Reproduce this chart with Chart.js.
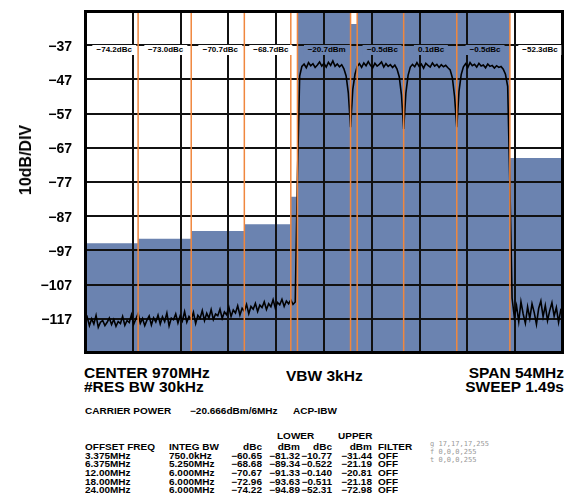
<!DOCTYPE html>
<html>
<head>
<meta charset="utf-8">
<script src="https://cdn.jsdelivr.net/npm/chart.js@4.4.1/dist/chart.umd.min.js"></script>
<style>
  html, body { margin: 0; padding: 0; background: #fff; }
  #wrap { position: relative; width: 574px; height: 497px; overflow: hidden;
          font-family: "Liberation Sans", Arial, sans-serif; font-weight: bold; color: #000; }
  #chart { position: absolute; left: 0; top: 0; }
  #readouts { position: absolute; left: 0; top: 0; width: 574px; height: 360px; pointer-events: none; }
  .ro { position: absolute; height: 10.5px; line-height: 10.5px; padding: 0 4px; font-size: 8px;
        white-space: nowrap; transform: translateX(-50%); }
  .t { position: absolute; white-space: nowrap; line-height: 1; }
  .big { font-size: 15.5px; transform: scaleY(0.9); transform-origin: 0 50%; }
  .sm { font-size: 10px; transform: scaleY(0.88); transform-origin: 0 50%; }
  #diag { position: absolute; left: 430px; top: 440px; width: 140px; font: 7px monospace; color: #999; white-space: pre; }
</style>
</head>
<body>
<div id="wrap">
  <canvas id="chart" width="574" height="360"></canvas>
  <div id="readouts"></div>

  <div class="t" style="left:26px;top:160px;font-size:16px;transform:translate(-50%,-50%) rotate(-90deg);">10dB/DIV</div>

  <div class="t big" style="left:84px;top:365.5px;">CENTER 970MHz</div>
  <div class="t big" style="left:84px;top:380px;">#RES BW 30kHz</div>
  <div class="t big" style="left:286px;top:368.5px;">VBW 3kHz</div>
  <div class="t big" style="left:364px;width:200px;text-align:right;transform-origin:100% 50%;top:365.5px;">SPAN 54MHz</div>
  <div class="t big" style="left:364px;width:200px;text-align:right;transform-origin:100% 50%;top:380px;">SWEEP 1.49s</div>

  <div class="t sm" style="left:85px;top:405.5px;">CARRIER POWER</div>
  <div class="t sm" style="left:190px;top:405.5px;">−20.666dBm/6MHz</div>
  <div class="t sm" style="left:293px;top:405.5px;">ACP-IBW</div>

  <div id="acp"></div>
  <div id="diag"></div>
</div>

<script>
// ── Sweep settings / axes ────────────────────────────────────────────────
var gridFreqs = [943, 948.4, 953.8, 959.2, 964.6, 970, 975.4, 980.8, 986.2, 991.6, 997];
var refTop = -27, refBottom = -127, dbPerDiv = 10;

// Integration bands (MHz edges) and the power drawn for each band (dBm)
var bandEdges = [943, 949, 955, 961, 966.25, 967, 973, 973.75, 979, 985, 991, 997];
var bandPower = [-94.89, -93.63, -91.33, -89.34, -81.32, -20.67, -30.8, -21.19, -20.81, -21.18, -70.0];

// Orange band-edge markers (MHz)
var markerFreqs = [949, 955, 961, 966.25, 967, 973, 973.75, 979, 985, 991];

// Readouts along the -37 line
var labelRowDb = -37;
var labelFreqs = [946.3, 952.1, 958.3, 964.0, 970.3, 976.6, 982.1, 988.2, 994.4];
var labelTexts = ['−74.2dBc', '−73.0dBc', '−70.7dBc', '−68.7dBc', '−20.7dBm',
                  '−0.5dBc', '0.1dBc', '−0.5dBc', '−52.3dBc'];

// Measured trace, one sample every 0.25 MHz starting at 943 MHz (one row per MHz)
var traceStart = 943, traceStep = 0.25;
var traceDbm = [
  -118, -116.5, -119, -117,          // 943
  -118.5, -116, -119.5, -118,        // 944
  -117.5, -119, -118, -116.8,        // 945
  -118.7, -117.2, -119.2, -117.8,    // 946
  -118.4, -116.3, -118.9, -117.5,    // 947
  -118.1, -115.8, -118.6, -117,      // 948
  -115.5, -118.3, -116.9, -119,      // 949
  -117.4, -116.2, -118.8, -116.7,    // 950
  -117.9, -115.9, -118.5, -116.4,    // 951
  -117.8, -115.3, -119.1, -116.8,    // 952
  -117.3, -115.6, -118.2, -116.1,    // 953
  -117.6, -114.9, -118, -116.3,      // 954
  -117.2, -115.1, -118.4, -116,      // 955
  -116.9, -114.6, -117.5, -115.4,    // 956
  -116.8, -114.3, -117.2, -115.6,    // 957
  -116.1, -114.2, -116.9, -115,      // 958
  -115.8, -113.6, -116.3, -114.4,    // 959
  -115.3, -113.2, -115.9, -113.9,    // 960
  -114.8, -112.8, -115.5, -113.4,    // 961
  -114.2, -112.5, -114.9, -113,      // 962
  -113.7, -112, -114.3, -112.6,      // 963
  -113.5, -111.4, -113.9, -112.2,    // 964
  -112.9, -111.3, -113.4, -111.8,    // 965
  -112.6, -111.5, -112.8, -112.1,    // 966
  -75, -46, -43.2, -42.5,            // 967
  -43.6, -42.1, -43, -42.4,          // 968
  -43.5, -42.8, -41.9, -43.1,        // 969
  -42.3, -43.4, -42, -42.9,          // 970
  -41.6, -43.2, -42.5, -43.3,        // 971
  -42.7, -43.9, -46, -51,            // 972
  -61, -50, -45.5, -43.2,            // 973
  -42.4, -43.5, -42.2, -43,          // 974
  -41.8, -42.9, -43.6, -42.3,        // 975
  -43.1, -42.6, -41.9, -43.4,        // 976
  -42.4, -43.2, -42.7, -43.5,        // 977
  -42.8, -44, -46.2, -51.5,          // 978
  -61.5, -51, -45.8, -43.4,          // 979
  -42.6, -43.3, -42.1, -43.2,        // 980
  -42.5, -43.7, -42.3, -42.9,        // 981
  -43.4, -42.2, -43.1, -42.6,        // 982
  -43.5, -42.7, -43.3, -42.9,        // 983
  -43.6, -44.2, -46.5, -52,          // 984
  -61, -50.5, -45.6, -43.3,          // 985
  -42.4, -43.5, -42.1, -43,          // 986
  -42.6, -43.4, -42.3, -43.1,        // 987
  -42.8, -43.6, -42.5, -43.2,        // 988
  -42.9, -43.7, -43, -43.5,          // 989
  -43.2, -44, -45.5, -49,            // 990
  -78, -111, -116.5, -113.2,         // 991
  -117.8, -112, -115.6, -118.3,      // 992
  -113.5, -116.9, -112.6, -115.2,    // 993
  -118.6, -114, -111.8, -116.4,      // 994
  -113.1, -117.5, -114.6, -112.3,    // 995
  -116.2, -113.7, -118, -114.4,      // 996
  -115.1                             // 997
];

// ACP table
var acpOffset = ['3.375MHz', '6.375MHz', '12.00MHz', '18.00MHz', '24.00MHz'];
var acpInteg  = ['750.0kHz', '5.250MHz', '6.000MHz', '6.000MHz', '6.000MHz'];
var lowerDbc  = ['−60.65', '−68.68', '−70.67', '−72.96', '−74.22'];
var lowerDbm  = ['−81.32', '−89.34', '−91.33', '−93.63', '−94.89'];
var upperDbc  = ['−10.77', '−0.522', '−0.140', '−0.511', '−52.31'];
var upperDbm  = ['−31.44', '−21.19', '−20.81', '−21.18', '−72.98'];
var acpFilter = ['OFF', 'OFF', 'OFF', 'OFF', 'OFF'];

var BLUE = '#6b83b0';
var ORANGE = '#f0873e';
var GRID = '#111';
var FONT = '"Liberation Sans", Arial, sans-serif';

(function buildTable() {
  var host = document.getElementById('acp');
  var html = '';
  function cell(txt, x, y, right) {
    if (right) {
      return '<div class="t sm" style="left:' + (x - 80) + 'px;width:80px;text-align:right;transform-origin:100% 50%;top:' + y + 'px;">' + txt + '</div>';
    }
    return '<div class="t sm" style="left:' + x + 'px;top:' + y + 'px;">' + txt + '</div>';
  }
  html += cell('LOWER', 277, 431);
  html += cell('UPPER', 338, 431);
  var hy = 442.4;
  html += cell('OFFSET FREQ', 85, hy);
  html += cell('INTEG BW', 169, hy);
  html += cell('dBc', 262, hy, true);
  html += cell('dBm', 300, hy, true);
  html += cell('dBc', 332, hy, true);
  html += cell('dBm', 372, hy, true);
  html += cell('FILTER', 378, hy);
  for (var i = 0; i < acpOffset.length; i++) {
    var y = 450.8 + i * 8.65;
    html += cell(acpOffset[i], 85, y);
    html += cell(acpInteg[i], 169, y);
    html += cell(lowerDbc[i], 262, y, true);
    html += cell(lowerDbm[i], 300, y, true);
    html += cell(upperDbc[i], 332, y, true);
    html += cell(upperDbm[i], 372, y, true);
    html += cell(acpFilter[i], 378, y);
  }
  host.innerHTML = html;
})();

function bandAt(f) {
  for (var i = 0; i < bandPower.length; i++) {
    if (f >= bandEdges[i] && f < bandEdges[i + 1]) return bandPower[i];
  }
  return bandPower[bandPower.length - 1];
}

var bandPoints = bandEdges.map(function (f, i) {
  return { x: f, y: bandPower[Math.min(i, bandPower.length - 1)] };
});
var tracePoints = traceDbm.map(function (v, i) {
  return { x: traceStart + i * traceStep, y: v };
});

// Graticule between the band fill and the trace; markers, frame and dB labels on top
var overlay = {
  id: 'overlay',
  beforeDatasetDraw: function (chart, args) {
    if (args.index !== 1) return;
    var ctx = chart.ctx, xs = chart.scales.x, ys = chart.scales.y, a = chart.chartArea;
    ctx.save();
    ctx.fillStyle = GRID;
    gridFreqs.forEach(function (f) {
      var x = Math.round(xs.getPixelForValue(f));
      ctx.fillRect(x - 1, a.top, 2, a.bottom - a.top);
    });
    ys.ticks.forEach(function (t) {
      var y = Math.round(ys.getPixelForValue(t.value));
      ctx.fillRect(a.left, y - 1, a.right - a.left, 2);
    });
    ctx.restore();
  },
  afterDatasetsDraw: function (chart) {
    var ctx = chart.ctx, xs = chart.scales.x, ys = chart.scales.y, a = chart.chartArea;

    ctx.save();
    ctx.strokeStyle = ORANGE;
    ctx.lineWidth = 1.5;
    markerFreqs.forEach(function (f) {
      var x = xs.getPixelForValue(f);
      ctx.beginPath(); ctx.moveTo(x, a.top + 1); ctx.lineTo(x, a.bottom - 1); ctx.stroke();
    });
    ctx.restore();

    ctx.save();
    ctx.fillStyle = '#000';
    var l = Math.round(a.left), r = Math.round(a.right), tp = Math.round(a.top), b = Math.round(a.bottom);
    ctx.fillRect(l - 1, tp - 1, r - l + 2, 3);
    ctx.fillRect(l - 1, b - 2, r - l + 2, 3);
    ctx.fillRect(l - 1, tp - 1, 3, b - tp + 2);
    ctx.fillRect(r - 2, tp - 1, 3, b - tp + 2);
    ctx.restore();

    ctx.save();
    ctx.font = 'bold 14px ' + FONT;
    ctx.textAlign = 'right';
    ctx.textBaseline = 'middle';
    ctx.fillStyle = '#000';
    ys.ticks.forEach(function (t) {
      if (t.value === refTop || t.value === refBottom) return;
      ctx.fillText((t.value < 0 ? '−' : '') + Math.abs(t.value), a.left - 13, ys.getPixelForValue(t.value) + 1.5);
    });
    ctx.restore();
  }
};

var chart = new Chart(document.getElementById('chart'), {
  type: 'line',
  data: {
    datasets: [
      {
        label: 'Band power',
        data: bandPoints,
        stepped: true,
        fill: 'start',
        backgroundColor: BLUE,
        borderWidth: 0,
        pointRadius: 0,
        order: 2
      },
      {
        label: 'Trace',
        data: tracePoints,
        borderColor: '#000',
        borderWidth: 1.6,
        pointRadius: 0,
        fill: false,
        tension: 0,
        order: 1
      }
    ]
  },
  options: {
    responsive: false,
    animation: false,
    devicePixelRatio: 1,
    layout: { autoPadding: false, padding: { left: 0, right: 11, top: 11, bottom: 7 } },
    plugins: { legend: { display: false }, tooltip: { enabled: false } },
    scales: {
      x: {
        type: 'linear',
        display: false,
        min: gridFreqs[0],
        max: gridFreqs[gridFreqs.length - 1]
      },
      y: {
        type: 'linear',
        min: refBottom,
        max: refTop,
        afterFit: function (s) { s.width = 85; },
        ticks: { stepSize: dbPerDiv, autoSkip: false, display: false },
        grid: { display: false, drawTicks: false },
        border: { display: false }
      }
    }
  },
  plugins: [overlay]
});

// Readouts on the -37 line, placed from the chart's scales
(function placeReadouts() {
  var xs = chart.scales.x, ys = chart.scales.y;
  var ly = ys.getPixelForValue(labelRowDb);
  var rh = '';
  labelFreqs.forEach(function (f, i) {
    var bg = bandAt(f) > labelRowDb ? BLUE : '#fff';
    rh += '<div class="ro" style="left:' + xs.getPixelForValue(f).toFixed(1) + 'px;top:' + (ly - 0.5).toFixed(1) +
          'px;background:' + bg + ';">' + labelTexts[i] + '</div>';
  });
  document.getElementById('readouts').innerHTML = rh;
})();

// Pixel probe of the graticule
(function probe() {
  var ctx = chart.ctx, xs = chart.scales.x;
  function px(x, y) { return Array.prototype.join.call(ctx.getImageData(x, y, 1, 1).data, ','); }
  var gx = Math.round(xs.getPixelForValue(gridFreqs[1]));
  document.getElementById('diag').textContent =
    'g ' + px(gx, 100) + '\nf ' + px(85, 100) + '\nt ' + px(300, 11);
})();
</script>
</body>
</html>
